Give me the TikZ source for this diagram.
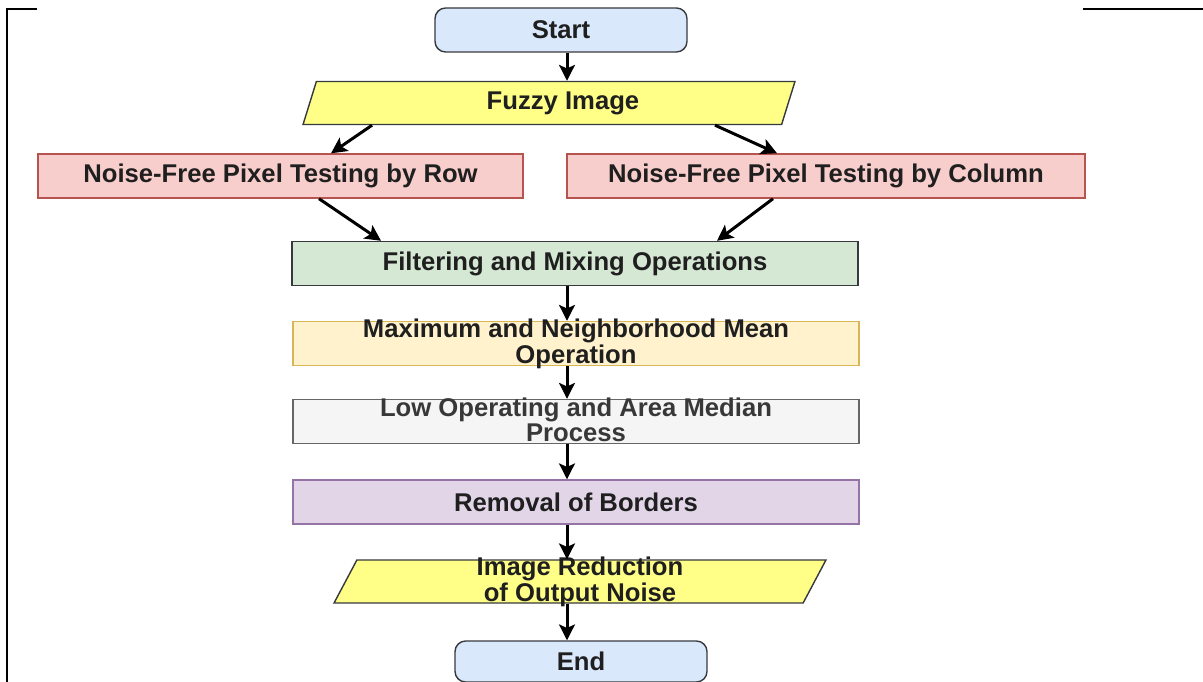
\documentclass[tikz,border=0pt]{standalone}
\usepackage{fontspec}
\setmainfont{Liberation Sans}
\usetikzlibrary{shapes.geometric, arrows.meta}

\definecolor{termfill}{HTML}{DAE8FC}
\definecolor{iofill}{HTML}{FFFF88}
\definecolor{ioline}{HTML}{36393D}
\definecolor{rowfill}{HTML}{F8CECC}
\definecolor{rowline}{HTML}{B85450}
\definecolor{filtfill}{HTML}{D5E8D4}
\definecolor{maxfill}{HTML}{FFF2CC}
\definecolor{maxline}{HTML}{D6B656}
\definecolor{lowfill}{HTML}{F5F5F5}
\definecolor{lowline}{HTML}{666666}
\definecolor{remfill}{HTML}{E1D5E7}
\definecolor{remline}{HTML}{9673A6}

\tikzset{
    box/.style={draw=ioline, line width=0.8pt, minimum height=0.88cm, inner xsep=2pt, inner ysep=0pt,
        align=center, text=black!88, font=\bfseries\fontsize{14.6}{10.6}\selectfont},
    twoline/.style={text height=22.5pt, text depth=0pt},
    procbox/.style={box, minimum width=11.32cm},
    termbox/.style={box, rounded corners=6pt, fill=termfill, minimum width=5.04cm},
    iobox/.style={box, trapezium, trapezium left angle=60, trapezium right angle=120,
        trapezium stretches body, fill=iofill, minimum width=9.84cm, minimum height=0.86cm},
    arr/.style={-{Stealth[length=9pt, width=9pt, inset=2pt]}, line width=1.7pt},
    frame/.style={line width=1.7pt},
}

\begin{document}
\begin{tikzpicture}[x=0.02cm, y=-0.02cm]
    \useasboundingbox (0,0) rectangle (1203,682);
    % corner rules of the page
    \draw[frame] (37,9) -- (7,9) -- (7,682);
    \draw[frame] (1083,9) -- (1203,9);

    \coordinate (spine) at (567,0);

    \node[termbox] (start) at (561,30) {Start};
    \node[iobox] (fuzzy) at (549,103) {\hspace*{0.56cm}Fuzzy Image};
    \node[box, fill=rowfill, draw=rowline, minimum width=9.7cm] (row) at (280.5,176) {Noise-Free Pixel Testing by Row};
    \node[box, fill=rowfill, draw=rowline, minimum width=10.36cm] (col) at (826,176) {Noise-Free Pixel Testing by Column};
    \node[procbox, fill=filtfill, minimum height=0.88cm] (filt) at (575,263.5) {Filtering and Mixing Operations};
    \node[procbox, twoline, fill=maxfill, draw=maxline] (maxop) at (576,343.5) {Maximum and Neighborhood Mean\\Operation};
    \node[procbox, twoline, fill=lowfill, draw=lowline, text=black!78] (lowop) at (576,421.5) {Low Operating and Area Median\\Process};
    \node[procbox, fill=remfill, draw=remline] (rem) at (576,502) {Removal of Borders};
    \node[iobox, twoline] (imgred) at (580,581.5) {Image Reduction\\of Output Noise};
    \node[termbox, minimum width=5.04cm, minimum height=0.82cm] (end) at (581,661.5) {End};

    \draw[arr] (spine |- start.south) -- (spine |- fuzzy.north);
    \draw[arr] ([xshift=-3.54cm]fuzzy.south) -- ([xshift=1.01cm]row.north);
    \draw[arr] ([xshift=3.32cm]fuzzy.south) -- ([xshift=-0.98cm]col.north);
    \draw[arr] ([xshift=0.77cm]row.south) -- ([xshift=-3.88cm]filt.north);
    \draw[arr] ([xshift=-1.06cm]col.south) -- ([xshift=2.84cm]filt.north);
    \draw[arr] (spine |- filt.south) -- (spine |- maxop.north);
    \draw[arr] (spine |- maxop.south) -- (spine |- lowop.north);
    \draw[arr] (spine |- lowop.south) -- (spine |- rem.north);
    \draw[arr] (spine |- rem.south) -- (spine |- imgred.north);
    \draw[arr] (spine |- imgred.south) -- (spine |- end.north);
\end{tikzpicture}
\end{document}
